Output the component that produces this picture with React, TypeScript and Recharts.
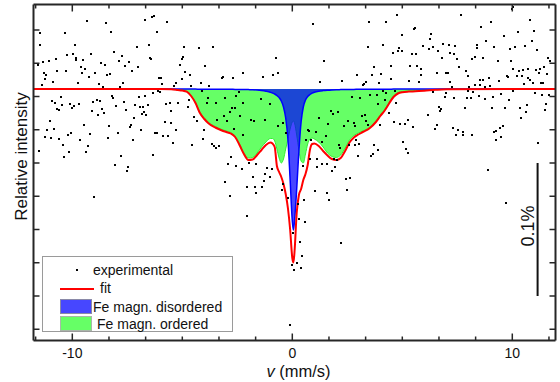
import React from "react";
import {
  ComposedChart,
  Area,
  Line,
  Scatter,
  XAxis,
  YAxis,
  ReferenceLine,
  Legend,
} from "recharts";

// velocity grid of the fitted curves (mm/s)
const curveVel = [
  -11.76, -6, -5.5, -5.2, -5.0, -4.8, -4.6, -4.4, -4.2, -4.0, -3.8, -3.5, -3.2, -3.0, -2.8,
  -2.6, -2.4, -2.2, -2.0, -1.8, -1.6, -1.4, -1.2, -1.0, -0.9, -0.8, -0.7, -0.6, -0.5, -0.4,
  -0.3, -0.2, -0.1, 0, 0.05, 0.1, 0.2, 0.3, 0.4, 0.5, 0.6, 0.7, 0.8, 0.9, 1.0,
  1.2, 1.4, 1.6, 1.8, 2.0, 2.2, 2.4, 2.6, 2.8, 3.0, 3.2, 3.5, 3.8, 4.0, 4.2,
  4.4, 4.6, 4.8, 5.0, 5.3, 5.6, 6.0, 6.5, 7.0, 11.96,
];

// counts relative to the baseline (133 counts = 0.1 %)
const fitCounts = [
  0, 0, -0.3, -1, -1.5, -2.7, -7, -14, -24, -30, -34.5, -38.5, -41.5, -43, -44.5,
  -48, -56, -65, -71, -70.5, -66, -61, -56, -53.5, -54.5, -58, -77, -83, -88, -95,
  -105, -119, -140, -169, -173.5, -163, -124, -106, -100, -91, -85, -76, -61, -55, -54.5,
  -57, -62, -66.5, -70, -71, -69, -62, -53.5, -48.5, -45.5, -43, -39.5, -33, -27, -21.5,
  -14.5, -8, -4.5, -3.2, -2.6, -2.3, -1.7, -0.8, -0.2, 0,
];

const disorderedCounts = [
  0, 0, 0, 0, -0.1, -0.1, -0.1, -0.1, -0.2, -0.2, -0.2, -0.2, -0.3, -0.3, -0.3,
  -0.4, -0.4, -0.5, -0.6, -0.7, -1, -1.5, -2.2, -3.2, -4, -5, -6.5, -8.5, -12, -18,
  -29, -50, -90, -132, -141, -132, -100, -62, -33, -18, -11, -7.5, -5.5, -4.2, -3.3,
  -2.2, -1.6, -1.2, -0.9, -0.7, -0.6, -0.5, -0.4, -0.4, -0.3, -0.3, -0.3, -0.2, -0.2, -0.2,
  -0.2, -0.1, -0.1, -0.1, -0.1, -0.1, 0, 0, 0, 0,
];

const orderedCounts = [
  0, 0, -0.2, -0.6, -1, -2.5, -6.5, -13.5, -23, -29, -33.5, -37.5, -40.5, -42, -43.5,
  -47, -55, -64, -69, -68.5, -64, -58, -53, -49.5, -49.5, -52, -60, -69, -74, -70,
  -60, -50, -40, -33, -32, -34, -46, -61, -72, -74, -65, -55, -50, -49, -50,
  -53, -58, -64, -67.5, -68.5, -66, -59, -51, -46.5, -44, -42, -38.5, -32, -26, -20.5,
  -13.5, -7, -3.5, -2.5, -1.9, -1.5, -1, -0.5, -0.1, 0,
];

// experimental points: [velocity mm/s, counts relative to baseline]
const experimental: [number, number][] = [
  [-9.35, 68], [-8.48, 66], [-6.68, 69], [-6.38, 72], [-6.29, 73], [-10.35, 56], [-8.24, 57], [-6.13, 57],
  [-11.45, 56], [-11.48, 44], [-9.89, 44], [-7.04, 42], [-6.5, 44], [-10.24, 34], [-9.97, 35], [-9.16, 35],
  [-8.1, 37], [-6.47, 31], [-6.41, 30], [-10.76, 30], [-9.82, 31], [-9.85, 29], [-9.51, 29], [-7.74, 33],
  [-7.88, 28], [-7.42, 27], [-11.35, 27], [-11.07, 28], [-11.57, 24], [-8.68, 26], [-8.51, 24], [-7.6, 23],
  [-7.0, 22], [-9.62, 22], [-9.44, 20], [-10.71, 18], [-10.3, 18], [-7.29, 18], [-11.3, 16], [-11.18, 14],
  [-9.56, 16], [-8.97, 16], [-9.24, 12], [-8.42, 14], [-8.29, 15], [-6.06, 11], [-5.95, 11], [-11.23, 10],
  [-10.88, 7], [-9.76, 6], [-8.77, 5], [-7.7, 6], [-5.91, 5], [-11.39, 4], [-8.59, 2], [-7.82, 2],
  [-6.09, -2], [-6.01, -3], [-6.35, -4], [-6.7, -7], [-8.21, -7], [-8.13, -9], [-10.51, -8], [-6.97, -8],
  [-10.94, -12], [-10.8, -14], [-10.47, -16], [-10.1, -15], [-9.92, -17], [-9.71, -15], [-9.04, -13], [-8.86, -11],
  [-8.76, -12], [-7.63, -13], [-6.54, -16], [-7.13, -16], [-6.91, -18], [-6.77, -18], [-8.0, -17], [-10.68, -20],
  [-10.59, -21], [-10.01, -19], [-9.1, -22], [-8.65, -20], [-8.56, -24], [-8.83, -26], [-7.56, -21], [-6.72, -23],
  [-6.82, -25], [-6.64, -26], [-7.21, -29], [-11.03, -32], [-7.32, -36], [-7.38, -38], [-9.45, -36], [-8.32, -37],
  [-11.13, -41], [-10.82, -40], [-6.86, -41], [-10.2, -46], [-10.07, -44], [-9.18, -45], [-7.91, -44], [-6.23, -44],
  [-6.13, -44], [-5.88, -47], [-11.26, -48], [-10.98, -49], [-10.6, -50], [-9.65, -51], [-8.38, -49], [-7.24, -51],
  [-10.44, -56], [-9.29, -57], [-10.16, -63], [-9.39, -63], [-11.53, -62], [-10.39, -68], [-7.79, -67], [-6.33, -66],
  [-8.06, -76], [-7.45, -78], [-7.51, -82], [-9.0, -108],
  [-5.68, 67], [-4.91, 42], [-4.23, 41], [-3.62, 42], [-0.74, 31], [-4.97, 32], [-5.0, 30], [-5.09, 24],
  [-3.95, 23], [-4.86, 17], [-4.65, 14], [-3.17, 12], [-3.21, 11], [-2.68, 11], [-2.24, 16], [-1.35, 12],
  [-0.89, 14], [-0.65, 16], [-5.01, 10], [-5.29, 6], [-5.38, 3], [-4.59, 3], [-4.17, 6], [-3.77, 3],
  [-5.76, -15], [-5.54, -14], [-5.2, -14], [-4.7, -11], [-4.74, -18], [-5.5, -22], [-4.47, -28], [-4.0, -41],
  [-4.12, -2], [-3.85, -9], [-3.47, -14], [-3.07, -9], [-2.44, -3], [-2.54, -7], [-2.23, -14], [-1.44, -10],
  [-1.0, -15], [-3.88, -14], [-2.76, -19], [-2.59, -19], [-2.83, -23], [-2.36, -27], [-3.09, -27], [-2.98, -32],
  [-3.44, -31], [-1.88, -31], [-1.76, -32], [-1.23, -31], [-0.41, -34], [-0.65, -37], [-0.27, -44], [-2.65, -40],
  [-2.24, -46], [-4.32, -32], [-5.77, -33], [-5.5, -34], [-5.27, -41], [-5.64, -47], [-5.41, -54], [-4.54, -56],
  [-4.07, -50], [-3.67, -55], [-3.56, -57], [-3.45, -59], [-3.33, -57], [-2.8, -68], [-2.92, -75], [-2.57, -77],
  [-2.29, -80], [-1.97, -74], [-1.65, -75], [-1.15, -79], [-0.94, -80],
  [-3.04, -93], [-1.77, -88], [-1.27, -92], [-1.03, -88], [-1.24, -85], [-2.06, -98], [-1.68, -98], [-1.39, -98],
  [-1.67, -104], [-2.85, -107], [-2.04, -127], [-0.44, -95], [-0.48, -101], [-0.21, -109], [0.02, -144], [-0.01, -176],
  [0.06, -181], [-0.1, -236],
  [2.44, -90], [2.64, -89], [1.03, -102], [1.58, -104], [2.49, -101], [0.53, -111], [1.67, -111], [0.27, -115],
  [0.29, -130], [0.56, -133], [2.2, -154], [0.35, -153], [0.44, -167], [0.21, -174], [0.38, -179],
  [0.94, 65], [3.49, 67], [4.27, 67], [4.77, 74], [5.55, 60], [5.59, 61], [4.99, 54], [1.43, 28],
  [3.44, 42], [4.14, 44], [4.87, 41], [4.58, 36], [4.82, 38], [4.97, 38], [5.46, 35], [5.64, 35],
  [5.93, 43], [3.71, 22], [4.5, 23], [5.37, 23], [5.68, 23], [5.83, 20], [2.94, 14], [3.64, 14],
  [4.05, 15], [4.47, 10], [5.87, 14], [5.32, 8], [5.78, 7], [1.27, 7], [2.26, 8], [3.37, 7],
  [3.27, 5], [3.2, 4], [3.96, 6], [4.14, -2], [4.24, -4], [4.67, -2], [3.85, -6], [3.52, -6],
  [3.09, -9], [2.71, -8], [4.21, -11], [3.88, -15], [1.76, -22], [2.08, -23], [1.83, -25], [3.31, -26],
  [3.15, -27], [1.21, -29], [1.61, -35], [2.55, -32], [2.33, -37], [2.8, -34], [2.87, -37], [3.37, -32],
  [3.43, -36], [0.7, -41], [0.76, -42], [1.08, -43], [1.53, -47], [0.62, -51], [0.87, -51], [1.37, -53],
  [2.11, -56], [2.18, -59], [2.59, -56], [4.73, -14], [4.41, -24], [4.64, -33], [4.91, -35], [5.11, -35],
  [5.27, -31], [5.47, -38], [3.99, -36], [2.88, -51], [2.87, -56], [3.05, -55], [3.7, -56], [5.05, -53],
  [5.17, -60], [5.26, -64], [3.91, -61], [3.68, -65], [3.59, -67], [2.99, -67], [2.05, -71], [1.91, -70],
  [1.58, -75], [1.33, -75], [1.14, -78], [0.79, -70], [1.12, -70], [1.96, -78], [1.8, -82], [0.47, -77],
  [7.68, 74], [9.99, 80], [10.05, 82], [9.02, 67], [10.8, 69], [8.59, 62], [11.0, 58], [6.29, 55],
  [6.27, 50], [9.61, 53], [10.24, 57], [8.82, 48], [10.89, 48], [6.86, 45], [7.11, 44], [7.41, 43],
  [8.41, 44], [8.38, 41], [9.18, 42], [9.88, 40], [10.14, 42], [10.58, 43], [11.11, 39], [6.23, 40],
  [6.41, 42], [6.64, 38], [7.18, 36], [7.33, 35], [6.82, 31], [7.5, 30], [8.15, 30], [8.29, 32],
  [8.67, 31], [9.33, 28], [9.94, 28], [11.62, 31], [11.7, 28], [7.59, 22], [7.88, 18], [10.03, 20],
  [10.32, 18], [10.49, 19], [10.71, 20], [11.09, 19], [11.27, 20], [11.44, 22], [8.0, 13], [6.56, 16],
  [6.97, 16], [7.06, 16], [9.76, 13], [9.8, 12], [10.21, 13], [10.46, 13], [10.71, 11], [10.8, 9],
  [10.93, 6], [11.2, 16], [11.58, 15], [7.17, 7], [8.53, 9], [8.68, 9], [8.93, 11], [9.38, 8],
  [8.32, 4], [8.55, 4], [8.76, 2], [8.99, 3], [8.05, 2], [7.26, 2], [10.52, 5], [11.3, 6],
  [11.38, 6], [6.38, -3], [6.99, -4], [6.93, -8], [7.35, -9], [7.97, -2], [8.23, -3], [8.47, -7],
  [8.77, -10], [9.11, -8], [9.5, -5], [9.83, -11], [7.93, -9], [8.12, -9], [10.05, -2], [11.02, -4],
  [11.35, -6], [11.68, -6], [11.55, -15], [11.49, -21], [6.68, -18], [6.76, -20], [6.71, -22], [7.85, -19],
  [9.06, -19], [9.65, -19], [10.35, -19], [10.65, -16], [10.62, -23], [10.39, -29], [6.18, -26], [6.59, -36],
  [6.5, -40], [7.29, -39], [7.55, -41], [7.46, -46], [7.74, -43], [7.77, -46], [8.18, -46], [9.17, -43],
  [9.27, -42], [9.44, -39], [9.58, -37], [9.24, -51], [9.47, -48], [11.18, -54], [8.88, -81], [9.71, -114],
];

const xTicks = [-11.667, -10, -8.333, -6.667, -5, -3.333, -1.667, 0, 1.667, 3.333, 5, 6.667, 8.333, 10, 11.667];
const xTickLabels: Record<string, string> = { "-10": "-10", "0": "0", "10": "10" };
const yTicks = [59, 25.75, -7.5, -40.75, -74, -107.25, -140.5, -173.75, -207, -240.25];
const scaleBar = { v: 11.15, from: -74, to: -207, label: "0.1%" };
const seriesNames = ["experimental", "fit", "Fe magn. disordered", "Fe magn. ordered"];

const curves = curveVel.map((v, i) => ({
  v,
  fit: fitCounts[i],
  disordered: disorderedCounts[i],
  ordered: orderedCounts[i],
}));
const points = experimental.map(([v, c]) => ({ v, counts: c }));

const FONT = "'Liberation Sans', Arial, Helvetica, sans-serif";
const AXIS = "#262626";
const BLUE_FILL = "rgba(0, 0, 255, 0.72)";
const GREEN_FILL = "#66ff66";

const BottomTick = (props: any) => {
  const { x, y, payload } = props;
  const label = xTickLabels[String(payload.value)];
  const major = label !== undefined;
  return (
    <g>
      <line x1={x} x2={x} y1={y} y2={y - (major ? 7 : 4)} stroke={AXIS} strokeWidth={1.5} />
      {major && (
        <text x={x} y={y + 17.5} textAnchor="middle" fontSize={14} fontFamily={FONT} fill="#111">
          {label}
        </text>
      )}
    </g>
  );
};

const TopTick = (props: any) => {
  const { x, y, payload } = props;
  const major = xTickLabels[String(payload.value)] !== undefined;
  return <line x1={x} x2={x} y1={y} y2={y + (major ? 7 : 4)} stroke={AXIS} strokeWidth={1.5} />;
};

const LeftTick = (props: any) => {
  const { x, y } = props;
  return <line x1={x} x2={x + 6} y1={y} y2={y} stroke={AXIS} strokeWidth={1.5} />;
};

const RightTick = (props: any) => {
  const { x, y } = props;
  return <line x1={x} x2={x - 6} y1={y} y2={y} stroke={AXIS} strokeWidth={1.5} />;
};

const Dot = (props: any) => (
  <rect x={Math.round(props.cx) - 1} y={Math.round(props.cy) - 1} width={2} height={2} fill="#000" />
);

const LegendBox = () => (
  <div
    style={{
      position: "relative",
      width: 191,
      height: 76,
      boxSizing: "border-box",
      border: "1px solid #9a9a9a",
      background: "#fff",
      fontFamily: FONT,
      fontSize: 14,
      color: "#111",
      lineHeight: "18px",
      whiteSpace: "nowrap",
    }}
  >
    <div style={{ position: "absolute", left: 33, top: 12, width: 2, height: 2, background: "#000" }} />
    <span style={{ position: "absolute", left: 50, top: 4 }}>{seriesNames[0]}</span>
    <div style={{ position: "absolute", left: 17, top: 31, width: 34, height: 2, background: "#ff0000" }} />
    <span style={{ position: "absolute", left: 57, top: 22 }}>{seriesNames[1]}</span>
    <div
      style={{
        position: "absolute",
        left: 17,
        top: 42,
        width: 32,
        height: 15,
        background: BLUE_FILL,
        boxSizing: "border-box",
        border: "1px solid #8a8aa8",
      }}
    />
    <span style={{ position: "absolute", left: 50, top: 41 }}>{seriesNames[2]}</span>
    <div
      style={{
        position: "absolute",
        left: 17,
        top: 59,
        width: 32,
        height: 15,
        background: GREEN_FILL,
        boxSizing: "border-box",
        border: "1px solid #a8b8a8",
      }}
    />
    <span style={{ position: "absolute", left: 54, top: 58 }}>{seriesNames[3]}</span>
  </div>
);

const YTitle = () => (
  <text
    transform="translate(21.5,156.5) rotate(-90)"
    textAnchor="middle"
    dominantBaseline="central"
    fontSize={17}
    fontFamily={FONT}
    fill="#111"
  >
    Relative intensity
  </text>
);

const XTitle = () => (
  <text x={298.5} y={376.5} textAnchor="middle" fontSize={16.5} fontFamily={FONT} fill="#111">
    <tspan fontStyle="italic">v</tspan> (mm/s)
  </text>
);

const ScaleLabel = () => (
  <text
    transform="translate(527.5,226) rotate(-90)"
    textAnchor="middle"
    dominantBaseline="central"
    fontSize={18}
    fontFamily={FONT}
    fill="#111"
  >
    {scaleBar.label}
  </text>
);

export default function App() {
  return (
    <div style={{ position: "absolute", left: 0, top: 0, background: "#fff" }}>
      <ComposedChart width={560} height={382} data={curves} margin={{ top: 0, right: 0, bottom: 0, left: 0 }}>
        <XAxis
          xAxisId="bottom"
          dataKey="v"
          type="number"
          domain={[-11.764, 11.964]}
          allowDataOverflow
          ticks={xTicks}
          interval={0}
          height={41.5}
          tickSize={0}
          tickMargin={0}
          tick={<BottomTick />}
          tickLine={false}
          axisLine={{ stroke: AXIS, strokeWidth: 2 }}
          label={XTitle}
        />
        <XAxis
          xAxisId="top"
          orientation="top"
          dataKey="v"
          type="number"
          domain={[-11.764, 11.964]}
          allowDataOverflow
          ticks={xTicks}
          interval={0}
          height={4.5}
          tickSize={0}
          tickMargin={0}
          tick={<TopTick />}
          tickLine={false}
          axisLine={{ stroke: AXIS, strokeWidth: 2 }}
        />
        <YAxis
          yAxisId="left"
          type="number"
          domain={[-251.5, 84.5]}
          allowDataOverflow
          ticks={yTicks}
          interval={0}
          width={33.5}
          tickSize={0}
          tickMargin={0}
          tick={<LeftTick />}
          tickLine={false}
          axisLine={{ stroke: AXIS, strokeWidth: 2 }}
          label={YTitle}
        />
        <YAxis
          yAxisId="right"
          orientation="right"
          type="number"
          domain={[-251.5, 84.5]}
          allowDataOverflow
          ticks={yTicks}
          interval={0}
          width={4.5}
          tickSize={0}
          tickMargin={0}
          tick={<RightTick />}
          tickLine={false}
          axisLine={{ stroke: AXIS, strokeWidth: 2 }}
        />
        <Area
          xAxisId="bottom"
          yAxisId="left"
          type="monotone"
          dataKey="ordered"
          baseValue={0}
          fill={GREEN_FILL}
          fillOpacity={1}
          stroke="#33ee33"
          strokeWidth={1}
          isAnimationActive={false}
        />
        <Area
          xAxisId="bottom"
          yAxisId="left"
          type="monotone"
          dataKey="disordered"
          baseValue={0}
          fill={BLUE_FILL}
          fillOpacity={1}
          stroke="#0000ff"
          strokeWidth={1.5}
          isAnimationActive={false}
        />
        <Line
          xAxisId="bottom"
          yAxisId="left"
          type="monotone"
          dataKey="fit"
          stroke="#ff0000"
          strokeWidth={2}
          dot={false}
          isAnimationActive={false}
        />
        <Scatter
          xAxisId="bottom"
          yAxisId="left"
          data={points}
          dataKey="counts"
          shape={Dot}
          isAnimationActive={false}
        />
        <ReferenceLine
          xAxisId="bottom"
          yAxisId="left"
          segment={[
            { x: scaleBar.v, y: scaleBar.from },
            { x: scaleBar.v, y: scaleBar.to },
          ]}
          stroke="#111"
          strokeWidth={2}
          label={ScaleLabel}
        />
        <Legend
          layout="vertical"
          align="center"
          verticalAlign="middle"
          wrapperStyle={{ position: "absolute", left: 42, top: 256, width: 191, height: 76 }}
          content={() => <LegendBox />}
        />
      </ComposedChart>
    </div>
  );
}
